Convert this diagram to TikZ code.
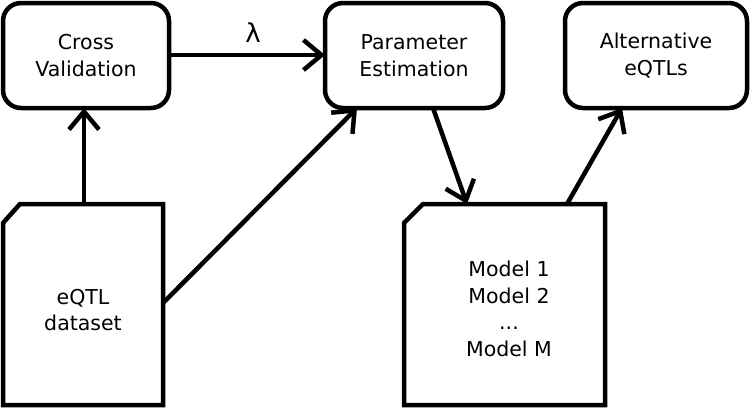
\documentclass[tikz,border=0pt]{standalone}
\usepackage{fontspec}
\setmainfont{DejaVu Sans}
\usetikzlibrary{arrows.meta}
\begin{document}
\begin{tikzpicture}[x=1pt,y=-1pt,
  lw/.style={line width=4.5pt},
  rbox/.style={lw, draw, rounded corners=18pt, fill=white},
  lbl/.style={align=center, font=\fontsize{20.5}{26.5}\selectfont, inner sep=0pt},
  conn/.style={lw, -{Straight Barb[length=18pt,width=30pt,line width=4.5pt]}}]
\useasboundingbox (0,0) rectangle (750,408);
% rounded boxes
\draw[rbox] (3,3) rectangle (169,108);
\draw[rbox] (325,3) rectangle (503,108);
\draw[rbox] (565,3) rectangle (747,108);
\node[lbl] (cv) at (86,55.5) {Cross\\Validation};
\node[lbl] (pe) at (414,55.5) {Parameter\\Estimation};
\node[lbl] (ae) at (656,55.5) {Alternative\\eQTLs};
% document shapes
\draw[lw, line join=miter] (3,223) -- (20,204) -- (163,204) -- (163,405) -- (3,405) -- cycle;
\draw[lw, line join=miter] (404,223) -- (423,204) -- (605,204) -- (605,405) -- (404,405) -- cycle;
\node[lbl] (ds) at (83,310) {eQTL\\dataset};
\node[lbl] (mm) at (509,309) {Model 1\\Model 2\\...\\Model M};
% anchor coordinates
\coordinate (cvB) at (84,108);
\coordinate (cvR) at (169,55);
\coordinate (peL) at (325,55);
\coordinate (peB1) at (357,108);
\coordinate (peB2) at (433,108);
\coordinate (aeB) at (622,108);
\coordinate (dsT) at (84,204);
\coordinate (dsR) at (163,303);
\coordinate (mmT1) at (467,204);
\coordinate (mmT2) at (567,204);
% connectors
\draw[conn] (dsT) -- (cvB);
\draw[conn] (cvR) -- node[anchor=base, inner sep=0pt, yshift=13pt, xshift=6pt, font=\fontsize{26}{30}\selectfont] (lam) {λ} (peL);
\draw[conn] (dsR) -- (peB1);
\draw[conn] (peB2) -- (mmT1);
\draw[conn] (mmT2) -- (aeB);
\end{tikzpicture}
\end{document}
